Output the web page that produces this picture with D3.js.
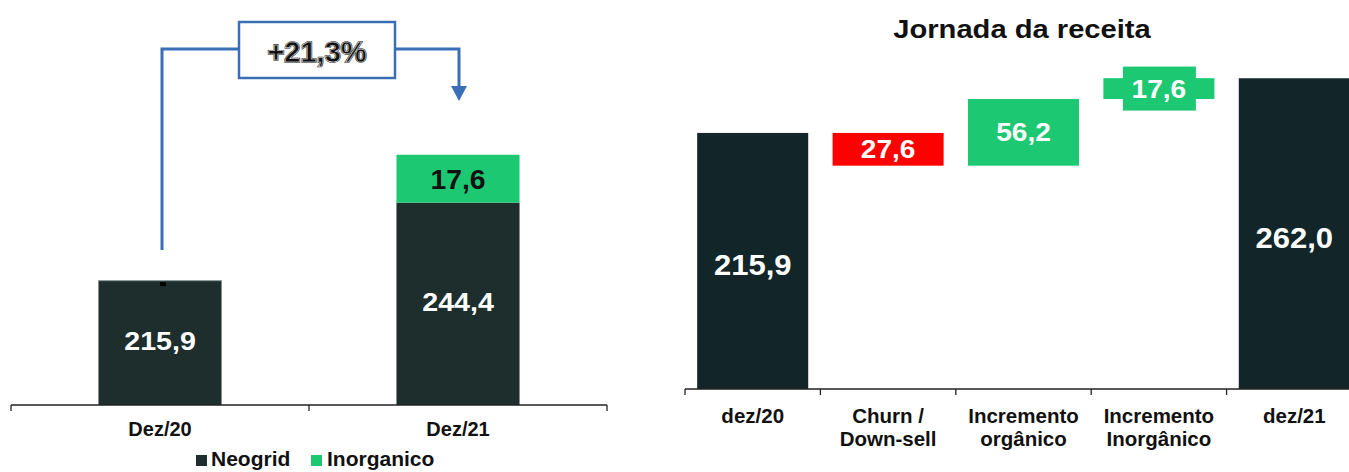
<!DOCTYPE html>
<html>
<head>
<meta charset="utf-8">
<script src="https://cdn.jsdelivr.net/npm/d3@7"></script>
<style>
  html, body { margin: 0; padding: 0; background: #fff; }
  svg { display: block; font-family: "Liberation Sans", Arial, sans-serif; font-weight: bold; }
</style>
</head>
<body>
<svg id="chart" width="1349" height="472"></svg>
<script>
// left chart: stacked revenue
const leftCategories = ['Dez/20', 'Dez/21'];
const neogrid = [215.9, 244.4];
const inorganico = [0, 17.6];
const growthLabel = '+21,3%';
const legendLabels = ['Neogrid', 'Inorganico'];

// right chart: waterfall
const rightTitle = 'Jornada da receita';
const rightCategories = [['dez/20'], ['Churn /', 'Down-sell'], ['Incremento', 'orgânico'], ['Incremento', 'Inorgânico'], ['dez/21']];
const rightValues = [215.9, -27.6, 56.2, 17.6, 262.0];
const rightTypes = ['total', 'delta', 'delta', 'delta', 'total'];

const fmt = d3.formatLocale({ decimal: ',', thousands: '.', grouping: [3], currency: ['', ''] }).format('.1f');
const svg = d3.select('#chart');

const DARK_L = '#1e2e2c';
const DARK_R = '#12262a';
const GREEN = '#1dc872';
const RED = '#ff0000';
const BLUE = '#3a6fb8';

// text slightly stretched sideways, like the source deck
function stext(g, x, y, str, size, sx, fill) {
  return g.append('text')
    .attr('transform', `translate(${x},${y}) scale(${sx},1)`)
    .attr('text-anchor', 'middle')
    .attr('font-size', size)
    .attr('fill', fill)
    .text(str);
}

// ---------- left ----------
(() => {
  const base = 405;
  const x = d3.scaleBand().domain(leftCategories).range([11, 607]);
  const y = d3.scaleLinear().domain([170, 300]).range([base, base - 130 * 2.72]);
  const bw = x.bandwidth() * 0.413;
  const g = svg.append('g');

  leftCategories.forEach((c, i) => {
    const cx = x(c) + x.bandwidth() / 2;
    const top1 = y(neogrid[i]);
    g.append('rect').attr('x', cx - bw / 2).attr('y', top1)
      .attr('width', bw).attr('height', base - top1).attr('fill', DARK_L);
    stext(g, cx, (top1 + base) / 2 + 7, fmt(neogrid[i]), 26, 1.1, '#fff');
    if (inorganico[i] > 0) {
      const top2 = y(neogrid[i] + inorganico[i]);
      g.append('rect').attr('x', cx - bw / 2).attr('y', top2)
        .attr('width', bw).attr('height', top1 - top2).attr('fill', GREEN);
      stext(g, cx, (top1 + top2) / 2 + 10, fmt(inorganico[i]), 27, 1.05, '#111');
    }
  });

  // little marker on first bar
  const c0 = x(leftCategories[0]) + x.bandwidth() / 2;
  g.append('line').attr('x1', c0 - bw / 2).attr('x2', c0 + bw / 2)
    .attr('y1', y(neogrid[0]) + 0.5).attr('y2', y(neogrid[0]) + 0.5).attr('stroke', '#9aa').attr('stroke-width', 1);
  g.append('rect').attr('x', c0).attr('y', y(neogrid[0]) + 2).attr('width', 6).attr('height', 4).attr('fill', '#000');

  // axis
  g.append('line').attr('x1', 11).attr('x2', 607).attr('y1', base).attr('y2', base)
    .attr('stroke', '#222').attr('stroke-width', 1.3);
  const bounds = leftCategories.map(c => x(c)).concat([x.range()[1]]);
  bounds.forEach(b => g.append('line').attr('x1', b).attr('x2', b).attr('y1', base).attr('y2', base + 6)
    .attr('stroke', '#222').attr('stroke-width', 1.3));
  leftCategories.forEach(c => g.append('text').attr('x', x(c) + x.bandwidth() / 2).attr('y', 436)
    .attr('text-anchor', 'middle').attr('font-size', 20).attr('fill', '#111').text(c));

  // legend
  const lg = g.append('g');
  lg.append('rect').attr('x', 196).attr('y', 455).attr('width', 11).attr('height', 11).attr('fill', DARK_L);
  lg.append('text').attr('x', 211).attr('y', 466).attr('font-size', 21).attr('fill', '#111').text(legendLabels[0]);
  lg.append('rect').attr('x', 311).attr('y', 455).attr('width', 11).attr('height', 11).attr('fill', GREEN);
  lg.append('text').attr('x', 327).attr('y', 466).attr('font-size', 21).attr('fill', '#111').text(legendLabels[1]);

  // growth annotation
  const c1 = x(leftCategories[1]) + x.bandwidth() / 2;
  const ay = 49;
  g.append('path').attr('d', `M${c0 + 2},250 V${ay} H239`)
    .attr('fill', 'none').attr('stroke', BLUE).attr('stroke-width', 3);
  g.append('path').attr('d', `M395,${ay} H${c1 + 1} V88`)
    .attr('fill', 'none').attr('stroke', BLUE).attr('stroke-width', 3);
  g.append('path').attr('d', `M${c1 - 7},86 L${c1 + 9},86 L${c1 + 1},101 Z`).attr('fill', BLUE);
  g.append('rect').attr('x', 239).attr('y', 22).attr('width', 156).attr('height', 56)
    .attr('fill', '#fff').attr('stroke', BLUE).attr('stroke-width', 2.5);
  g.append('text').attr('x', 317).attr('y', 62).attr('text-anchor', 'middle')
    .attr('font-size', 29).attr('fill', '#111').attr('stroke', '#111').attr('stroke-width', 1.6)
    .text(growthLabel);
  g.append('text').attr('x', 317).attr('y', 62).attr('text-anchor', 'middle')
    .attr('font-size', 29).attr('fill', 'none').attr('stroke', '#fff').attr('stroke-width', 0.5)
    .text(growthLabel);
})();

// ---------- right ----------
(() => {
  const base = 389;
  const names = rightCategories.map(l => l.join(' '));
  const x = d3.scaleBand().domain(names).range([685, 1362]);
  const y = d3.scaleLinear().domain([0, 300]).range([base, base - 300 * 1.186]);
  const bw = x.bandwidth() * 0.82;
  const g = svg.append('g');

  stext(g, 1022, 38, rightTitle, 26.5, 1.1, '#111');

  let run = 0;
  const bars = rightValues.map((v, i) => {
    let lo, hi;
    if (rightTypes[i] === 'total') { lo = 0; hi = v; run = v; }
    else { lo = Math.min(run, run + v); hi = Math.max(run, run + v); run += v; }
    return { name: names[i], v, lo, hi, type: rightTypes[i] };
  });

  bars.forEach(b => {
    const cx = x(b.name) + x.bandwidth() / 2;
    const color = b.type === 'total' ? DARK_R : (b.v < 0 ? RED : GREEN);
    g.append('rect').attr('x', cx - bw / 2).attr('y', y(b.hi))
      .attr('width', bw).attr('height', y(b.lo) - y(b.hi)).attr('fill', color);
    const my = (y(b.lo) + y(b.hi)) / 2;
    const hgt = y(b.lo) - y(b.hi);
    if (hgt < 30) {
      g.append('rect').attr('x', cx - 36).attr('y', my - 22).attr('width', 73).attr('height', 44).attr('fill', color);
    }
    if (b.type === 'total') stext(g, cx, my + 14.5, fmt(Math.abs(b.v)), 29, 1.07, '#fff');
    else stext(g, cx, my + 9, fmt(Math.abs(b.v)), 26, 1.08, '#fff');
  });

  g.append('line').attr('x1', 685).attr('x2', 1362).attr('y1', base).attr('y2', base)
    .attr('stroke', '#222').attr('stroke-width', 1.3);
  names.forEach(n => g.append('line').attr('x1', x(n)).attr('x2', x(n)).attr('y1', base).attr('y2', base + 6)
    .attr('stroke', '#222').attr('stroke-width', 1.3));
  rightCategories.forEach((lines, i) => {
    const t = g.append('text').attr('text-anchor', 'middle').attr('font-size', 20.5).attr('fill', '#111');
    lines.forEach((l, j) => t.append('tspan').attr('x', x(names[i]) + x.bandwidth() / 2)
      .attr('y', 423 + j * 23).text(l));
  });
})();
</script>
</body>
</html>
